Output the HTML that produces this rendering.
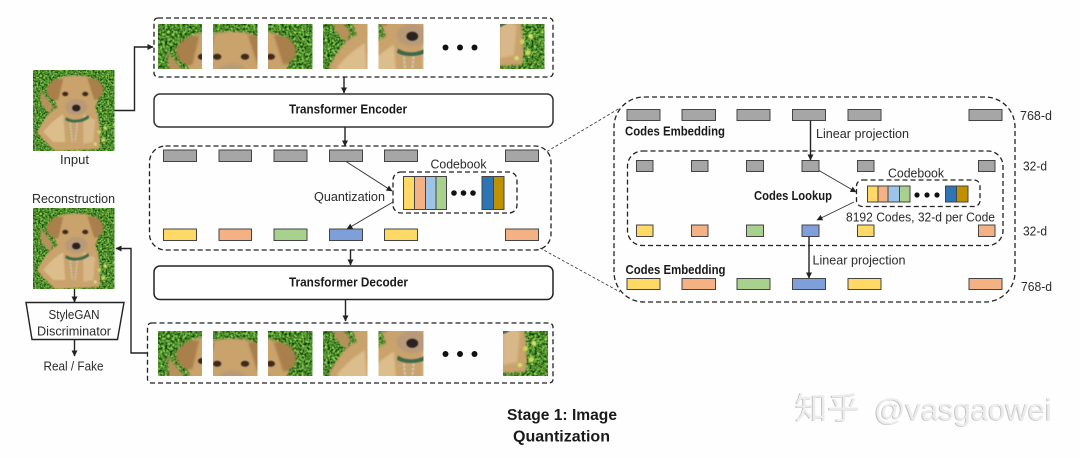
<!DOCTYPE html>
<html><head><meta charset="utf-8"><style>
html,body{margin:0;padding:0;background:#fefefe}
svg{display:block}
text{font-family:"Liberation Sans","Noto Sans CJK SC",sans-serif;fill:#2b2b2b}
.b{font-weight:bold;fill:#1a1a1a}
.d{fill:none;stroke:#222;stroke-width:1.3;stroke-dasharray:5 3}
.s{fill:none;stroke:#222;stroke-width:1.4}
.t{fill:none;stroke:#333;stroke-width:.9}
.r{stroke:#444;stroke-width:1}
.g{fill:#a6a6a6}.y{fill:#ffd966}.o{fill:#f4b183}.n{fill:#a9d18e}.u{fill:#7f9fdb}
</style></head><body>
<svg xmlns="http://www.w3.org/2000/svg" width="1080" height="458" viewBox="0 0 1080 458">
<defs>
<filter id="gr" x="0" y="0" width="100%" height="100%" color-interpolation-filters="sRGB"><feTurbulence type="fractalNoise" baseFrequency=".55" numOctaves="2" seed="4"/><feColorMatrix values=".9 0 0 0 -.14  1.1 0 0 0 0  .5 0 0 0 -.07  0 0 0 0 1"/><feGaussianBlur stdDeviation=".25"/></filter>
<filter id="bl"><feGaussianBlur stdDeviation=".7"/></filter>
<filter id="bs"><feGaussianBlur stdDeviation=".4"/></filter>
<g id="dog">
<rect width="82" height="82" fill="#4a8a2c"/>
<rect width="82" height="82" filter="url(#gr)"/>
<g filter="url(#bl)">
<path d="M7 20 L20 36 L17 44 L8 34Z" fill="#b7915c"/>
<path d="M4 62 C10 50 16 42 25 37 L62 37 C66 48 68 62 66 79 L22 81 C14 74 8 68 4 62Z" fill="#c9a26c"/>
<path d="M10 62 C18 52 24 48 30 44 L32 72 L20 72Z" fill="#dcbd8c"/>
<path d="M50 44 L62 50 L60 72 L50 74Z" fill="#d8b888"/>
<path d="M22 10 C30 4 56 4 62 10 C68 20 66 36 56 44 L30 44 C20 36 18 20 22 10Z" fill="#c9a26c"/>
<path d="M13 20 C15 12 22 8 30 9 L25 30 C20 31 14 27 13 20Z" fill="#a97f4b"/>
<path d="M70 18 C68 11 62 8 54 8 L61 30 C66 29 71 25 70 18Z" fill="#a97f4b"/>
<ellipse cx="43" cy="37" rx="11" ry="8" fill="#b89a78"/>
</g>
<g filter="url(#bs)">
<ellipse cx="32" cy="24" rx="3" ry="2.200" fill="#3d2a1c"/>
<ellipse cx="52" cy="24" rx="3" ry="2.200" fill="#3d2a1c"/>
<ellipse cx="43" cy="38" rx="4.200" ry="3.400" fill="#2a2220"/>
<path d="M33 47 C38 51 48 51 55 45 L56 48 C50 53 38 54 32 50Z" fill="#3b6a4c"/>
<path d="M37 53 L39 72 M44 53 L42 72" stroke="#c9c9b8" stroke-width="1.600" stroke-dasharray="2 1" fill="none"/>
<circle cx="66" cy="62" r="1.800" fill="#c9d65a"/><circle cx="72" cy="58" r="1.800" fill="#d5dd6a"/><circle cx="70" cy="70" r="2" fill="#c9d65a"/><circle cx="62" cy="74" r="1.600" fill="#d5dd6a"/>
</g>
</g>
<marker id="a" viewBox="0 0 6 6" refX="5.5" refY="3" markerWidth="6" markerHeight="6" markerUnits="userSpaceOnUse" orient="auto"><path d="M0 0L6 3L0 6Z" fill="#222"/></marker>
</defs>

<!-- left column -->
<svg x="33" y="70" width="81.500" height="81" viewBox="0 0 81 81"><use href="#dog"/></svg>
<svg x="33" y="208" width="81.500" height="81" viewBox="0 0 81 81"><use href="#dog"/></svg>
<text x="60" y="164" font-size="13" textLength="29" lengthAdjust="spacingAndGlyphs">Input</text>
<text x="32" y="203" font-size="13" textLength="83" lengthAdjust="spacingAndGlyphs">Reconstruction</text>
<path class="s" d="M74.500 289V302" marker-end="url(#a)"/>
<path class="s" d="M26 302.500H124L117.500 339.500H32Z"/>
<text x="48.500" y="319" font-size="13" textLength="51" lengthAdjust="spacingAndGlyphs">StyleGAN</text>
<text x="37" y="335.500" font-size="13" textLength="74" lengthAdjust="spacingAndGlyphs">Discriminator</text>
<path class="s" d="M74.500 339.500V356" marker-end="url(#a)"/>
<text x="43.500" y="370.500" font-size="13" textLength="60" lengthAdjust="spacingAndGlyphs">Real / Fake</text>
<path class="s" d="M114.500 110.500H134.500V47H153" marker-end="url(#a)"/>
<path class="s" d="M147.500 353H131V248.500H116" marker-end="url(#a)"/>

<!-- top patches -->
<rect class="d" x="154" y="18" width="399" height="59" rx="4"/>
<svg x="158" y="24" width="44" height="45" viewBox="0 0 32 33" preserveAspectRatio="none"><use href="#dog"/></svg>
<svg x="213" y="24" width="44.500" height="45" viewBox="29 0 32 33" preserveAspectRatio="none"><use href="#dog"/></svg>
<svg x="268" y="24" width="44.500" height="45" viewBox="50 0 32 33" preserveAspectRatio="none"><use href="#dog"/></svg>
<svg x="323" y="24" width="44.500" height="45" viewBox="0 30 32 33" preserveAspectRatio="none"><use href="#dog"/></svg>
<svg x="378.500" y="24" width="45" height="45" viewBox="19 29 32 33" preserveAspectRatio="none"><use href="#dog"/></svg>
<svg x="500" y="24" width="44.500" height="45" viewBox="50 49 32 33" preserveAspectRatio="none"><use href="#dog"/></svg>
<g fill="#111"><circle cx="445.500" cy="47.500" r="3"/><circle cx="460" cy="47.500" r="3"/><circle cx="474.500" cy="47.500" r="3"/></g>
<path class="s" d="M344 77V93" marker-end="url(#a)"/>

<!-- encoder -->
<rect x="154" y="94" width="399" height="33" rx="6" fill="#fff" stroke="#333" stroke-width="1.500"/>
<text class="b" x="289" y="113.500" font-size="13" textLength="118" lengthAdjust="spacingAndGlyphs">Transformer Encoder</text>
<path class="s" d="M345 127V146" marker-end="url(#a)"/>

<!-- middle -->
<rect class="d" x="149.500" y="146" width="401.500" height="104" rx="16"/>
<g class="r">
<rect class="g" x="163.500" y="150" width="33" height="11.500"/><rect class="g" x="219" y="150" width="32.500" height="11.500"/><rect class="g" x="274" y="150" width="33" height="11.500"/><rect class="g" x="329.500" y="150" width="33" height="11.500"/><rect class="g" x="384.500" y="150" width="33" height="11.500"/><rect class="g" x="505.500" y="150" width="33" height="11.500"/>
<rect class="y" x="163.500" y="229" width="33" height="11.500"/><rect class="o" x="219" y="229" width="32.500" height="11.500"/><rect class="n" x="274" y="229" width="33" height="11.500"/><rect class="u" x="329.500" y="229" width="33" height="11.500"/><rect class="y" x="384.500" y="229" width="33" height="11.500"/><rect class="o" x="505.500" y="229" width="33" height="11.500"/>
</g>
<text x="430.500" y="168.500" font-size="13" textLength="56" lengthAdjust="spacingAndGlyphs">Codebook</text>
<text x="314" y="201" font-size="13" textLength="71" lengthAdjust="spacingAndGlyphs">Quantization</text>
<rect class="d" x="393" y="172" width="124" height="41" rx="8"/>
<g class="r">
<rect class="y" x="403.500" y="176.500" width="11" height="33"/><rect class="o" x="414.500" y="176.500" width="11" height="33"/><rect fill="#9dc3e6" x="425.500" y="176.500" width="10.500" height="33"/><rect class="n" x="436" y="176.500" width="10.500" height="33"/>
<rect fill="#2e75b6" x="482" y="176.500" width="11.500" height="33"/><rect fill="#bf9000" x="493.500" y="176.500" width="10.500" height="33"/>
</g>
<g fill="#111"><circle cx="454" cy="193" r="2.800"/><circle cx="463.500" cy="193" r="2.800"/><circle cx="473" cy="193" r="2.800"/></g>
<path class="t" d="M346 161.500L392 191" marker-end="url(#a)"/>
<path class="t" d="M393 202L347 229" marker-end="url(#a)"/>
<path class="s" d="M350.500 250V265" marker-end="url(#a)"/>

<!-- decoder -->
<rect x="154" y="266" width="399" height="33.500" rx="6" fill="#fff" stroke="#222" stroke-width="1.500"/>
<text class="b" x="289" y="286.500" font-size="13" textLength="119" lengthAdjust="spacingAndGlyphs">Transformer Decoder</text>
<path class="s" d="M345.500 300V321" marker-end="url(#a)"/>

<!-- bottom patches -->
<rect class="d" x="147.500" y="323" width="405.500" height="60" rx="4"/>
<svg x="158" y="331" width="44" height="45" viewBox="0 2 32 33" preserveAspectRatio="none"><use href="#dog"/></svg>
<svg x="213" y="331" width="44.500" height="45" viewBox="29 0 32 33" preserveAspectRatio="none"><use href="#dog"/></svg>
<svg x="268" y="331" width="44.500" height="45" viewBox="50 0 32 33" preserveAspectRatio="none"><use href="#dog"/></svg>
<svg x="323" y="331" width="44.500" height="45" viewBox="0 30 32 33" preserveAspectRatio="none"><use href="#dog"/></svg>
<svg x="378.500" y="331" width="45" height="45" viewBox="19 29 32 33" preserveAspectRatio="none"><use href="#dog"/></svg>
<svg x="503" y="331" width="45" height="45" viewBox="50 49 32 33" preserveAspectRatio="none"><use href="#dog"/></svg>
<g fill="#111"><circle cx="445.500" cy="354" r="3"/><circle cx="460" cy="354" r="3"/><circle cx="474.500" cy="354" r="3"/></g>

<!-- zoom lines -->
<path d="M547 151.500L620 108M540 248L620 292" fill="none" stroke="#333" stroke-width=".8" stroke-dasharray="3 2"/>

<!-- right panel -->
<rect class="d" x="614" y="97" width="401" height="205" rx="30"/>
<rect class="d" x="627.500" y="151" width="375.500" height="94.500" rx="15"/>
<g class="r">
<rect class="g" x="627" y="109.500" width="33" height="11"/><rect class="g" x="682" y="109.500" width="33.500" height="11"/><rect class="g" x="737" y="109.500" width="33" height="11"/><rect class="g" x="792.500" y="109.500" width="33" height="11"/><rect class="g" x="848" y="109.500" width="33" height="11"/><rect class="g" x="969" y="109.500" width="33" height="11"/>
<rect class="g" x="636.500" y="160.500" width="16.500" height="11"/><rect class="g" x="691.500" y="160.500" width="16.500" height="11"/><rect class="g" x="746.500" y="160.500" width="17" height="11"/><rect class="g" x="802" y="160.500" width="17" height="11"/><rect class="g" x="857.500" y="160.500" width="16.500" height="11"/><rect class="g" x="978.500" y="160.500" width="16.500" height="11"/>
<rect class="y" x="636.500" y="225" width="16.500" height="11.500"/><rect class="o" x="691.500" y="225" width="16.500" height="11.500"/><rect class="n" x="746.500" y="225" width="17" height="11.500"/><rect class="u" x="802" y="225" width="17" height="11.500"/><rect class="y" x="857.500" y="225" width="16.500" height="11.500"/><rect class="o" x="978.500" y="225" width="16.500" height="11.500"/>
<rect class="y" x="627" y="278.500" width="33" height="11"/><rect class="o" x="682" y="278.500" width="33.500" height="11"/><rect class="n" x="737" y="278.500" width="33" height="11"/><rect class="u" x="792.500" y="278.500" width="33" height="11"/><rect class="y" x="848" y="278.500" width="33" height="11"/><rect class="o" x="969" y="278.500" width="33" height="11"/>
</g>
<text class="b" x="625" y="135.500" font-size="13" textLength="100" lengthAdjust="spacingAndGlyphs">Codes Embedding</text>
<text class="b" x="625.500" y="274" font-size="13" textLength="100" lengthAdjust="spacingAndGlyphs">Codes Embedding</text>
<text class="b" x="754" y="200" font-size="13" textLength="78" lengthAdjust="spacingAndGlyphs">Codes Lookup</text>
<text x="816" y="138" font-size="13" textLength="93" lengthAdjust="spacingAndGlyphs">Linear projection</text>
<text x="812.500" y="264.500" font-size="13" textLength="93" lengthAdjust="spacingAndGlyphs">Linear projection</text>
<text x="888" y="177.500" font-size="13" textLength="56" lengthAdjust="spacingAndGlyphs">Codebook</text>
<text x="846" y="221.500" font-size="13" textLength="149" lengthAdjust="spacingAndGlyphs">8192 Codes, 32-d per Code</text>
<text x="1020" y="120" font-size="13" textLength="32" lengthAdjust="spacingAndGlyphs">768-d</text>
<text x="1023" y="170.500" font-size="13" textLength="24" lengthAdjust="spacingAndGlyphs">32-d</text>
<text x="1023" y="235.500" font-size="13" textLength="24" lengthAdjust="spacingAndGlyphs">32-d</text>
<text x="1021" y="291" font-size="13" textLength="31" lengthAdjust="spacingAndGlyphs">768-d</text>
<rect class="d" x="856.500" y="180" width="123.500" height="26.500" rx="6"/>
<g class="r">
<rect class="y" x="867.500" y="186" width="10.500" height="16"/><rect class="o" x="878" y="186" width="10" height="16"/><rect fill="#9dc3e6" x="888" y="186" width="11.500" height="16"/><rect class="n" x="899.500" y="186" width="10.500" height="16"/>
<rect fill="#2e75b6" x="945.500" y="186" width="11" height="16"/><rect fill="#bf9000" x="956.500" y="186" width="11.500" height="16"/>
</g>
<g fill="#111"><circle cx="917" cy="195" r="2.600"/><circle cx="927" cy="195" r="2.600"/><circle cx="937" cy="195" r="2.600"/></g>
<path class="s" d="M810.500 120.500V160" marker-end="url(#a)"/>
<path class="t" d="M819 170.500L856 192" marker-end="url(#a)"/>
<path class="t" d="M854 202L817 220" marker-end="url(#a)"/>
<path class="s" d="M809 236.500V278" marker-end="url(#a)"/>

<!-- title -->
<text class="b" x="507" y="420" font-size="15.500" textLength="110" lengthAdjust="spacingAndGlyphs">Stage 1: Image</text>
<text class="b" x="513" y="441.500" font-size="15.500" textLength="97" lengthAdjust="spacingAndGlyphs">Quantization</text>

<!-- watermark -->
<g font-size="31">
<text x="794" y="419.500" textLength="65" lengthAdjust="spacingAndGlyphs" style="fill:#c2c2c2">知乎</text>
<text x="873" y="420.500" textLength="178" lengthAdjust="spacingAndGlyphs" style="fill:#c2c2c2">@vasgaowei</text>
<text x="795" y="419" textLength="65" lengthAdjust="spacingAndGlyphs" style="fill:#ececec">知乎</text>
<text x="874" y="420" textLength="178" lengthAdjust="spacingAndGlyphs" style="fill:#ececec">@vasgaowei</text>
</g>
</svg>
</body></html>
